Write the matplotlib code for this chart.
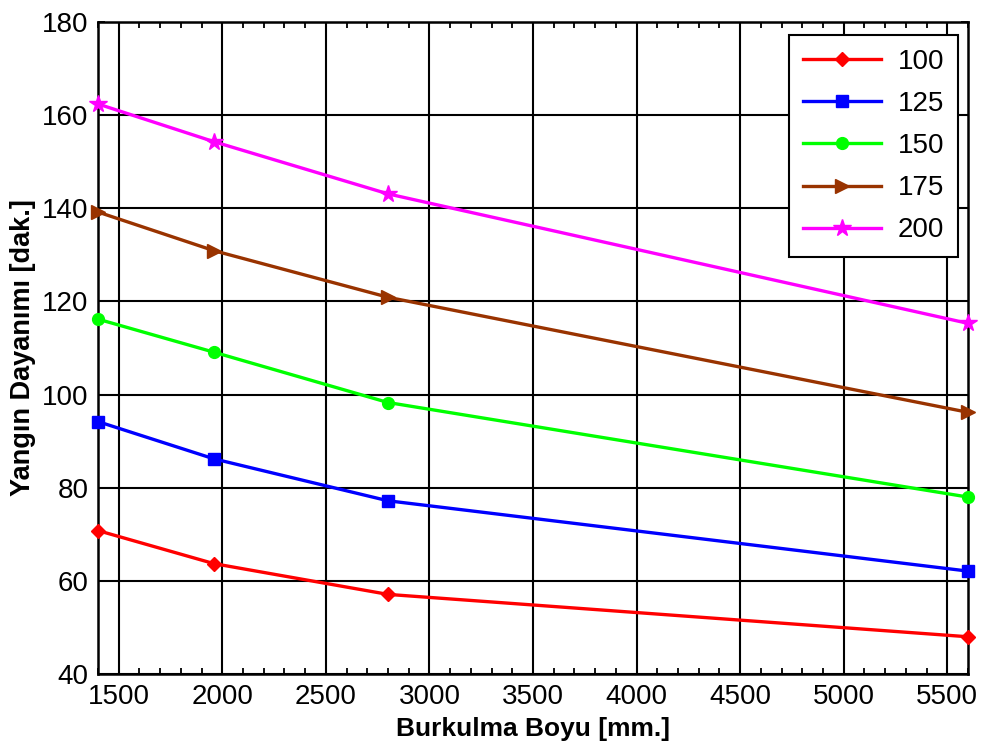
import matplotlib
matplotlib.use("Agg")
import matplotlib.pyplot as plt
from matplotlib.ticker import MultipleLocator

plt.rcParams['font.family'] = ['Liberation Sans', 'DejaVu Sans']

# Buckling length [mm] and fire resistance [min] per section size
lengths = [1400, 1960, 2800, 5600]
s100 = [70.8, 63.7, 57.1, 48.0]
s125 = [94.2, 86.2, 77.2, 62.1]
s150 = [116.2, 109.1, 98.3, 78.0]
s175 = [139.2, 130.9, 120.9, 96.2]
s200 = [162.4, 154.3, 143.1, 115.3]
labels = ['100', '125', '150', '175', '200']

fig = plt.figure(figsize=(9.84, 7.49), dpi=100)
ax = fig.add_axes([0.0996, 0.1001, 0.8841, 0.8705])

styles = [
    (s100, '#ff0000', 'D', 7),
    (s125, '#0000ff', 's', 8.5),
    (s150, '#00ff00', 'o', 8.5),
    (s175, '#993300', '>', 9.5),
    (s200, '#ff00ff', '*', 13),
]
for (vals, col, mk, ms), lab in zip(styles, labels):
    ax.plot(lengths, vals, color=col, marker=mk, markersize=ms, lw=2.4,
            label=lab, clip_on=False, zorder=3)

ax.set_xlim(1400, 5600)
ax.set_ylim(40, 180)
ax.xaxis.set_major_locator(MultipleLocator(500))
ax.xaxis.set_minor_locator(MultipleLocator(100))
ax.yaxis.set_major_locator(MultipleLocator(20))
ax.grid(True, which='major', color='black', lw=1.5)
ax.tick_params(which='both', direction='in', top=True, right=True,
               labelsize=20, width=1.3, color='black', pad=7)
ax.tick_params(which='major', length=5)
ax.tick_params(which='minor', length=4)
for sp in ax.spines.values():
    sp.set_linewidth(1.8)

ax.set_xlabel('Burkulma Boyu [mm.]', fontsize=19, fontweight='bold', labelpad=5)
ax.set_ylabel('Yangın Dayanımı [dak.]', fontsize=19.5, fontweight='bold', labelpad=4)

leg = ax.legend(loc='upper right', fontsize=20, frameon=True, fancybox=False,
                edgecolor='black', framealpha=1, handlelength=2.8,
                borderpad=0.5, labelspacing=0.58, handletextpad=0.6,
                borderaxespad=0, bbox_to_anchor=(0.9885, 0.98))
leg.get_frame().set_linewidth(1.5)

fig.savefig('out.png', dpi=100)
